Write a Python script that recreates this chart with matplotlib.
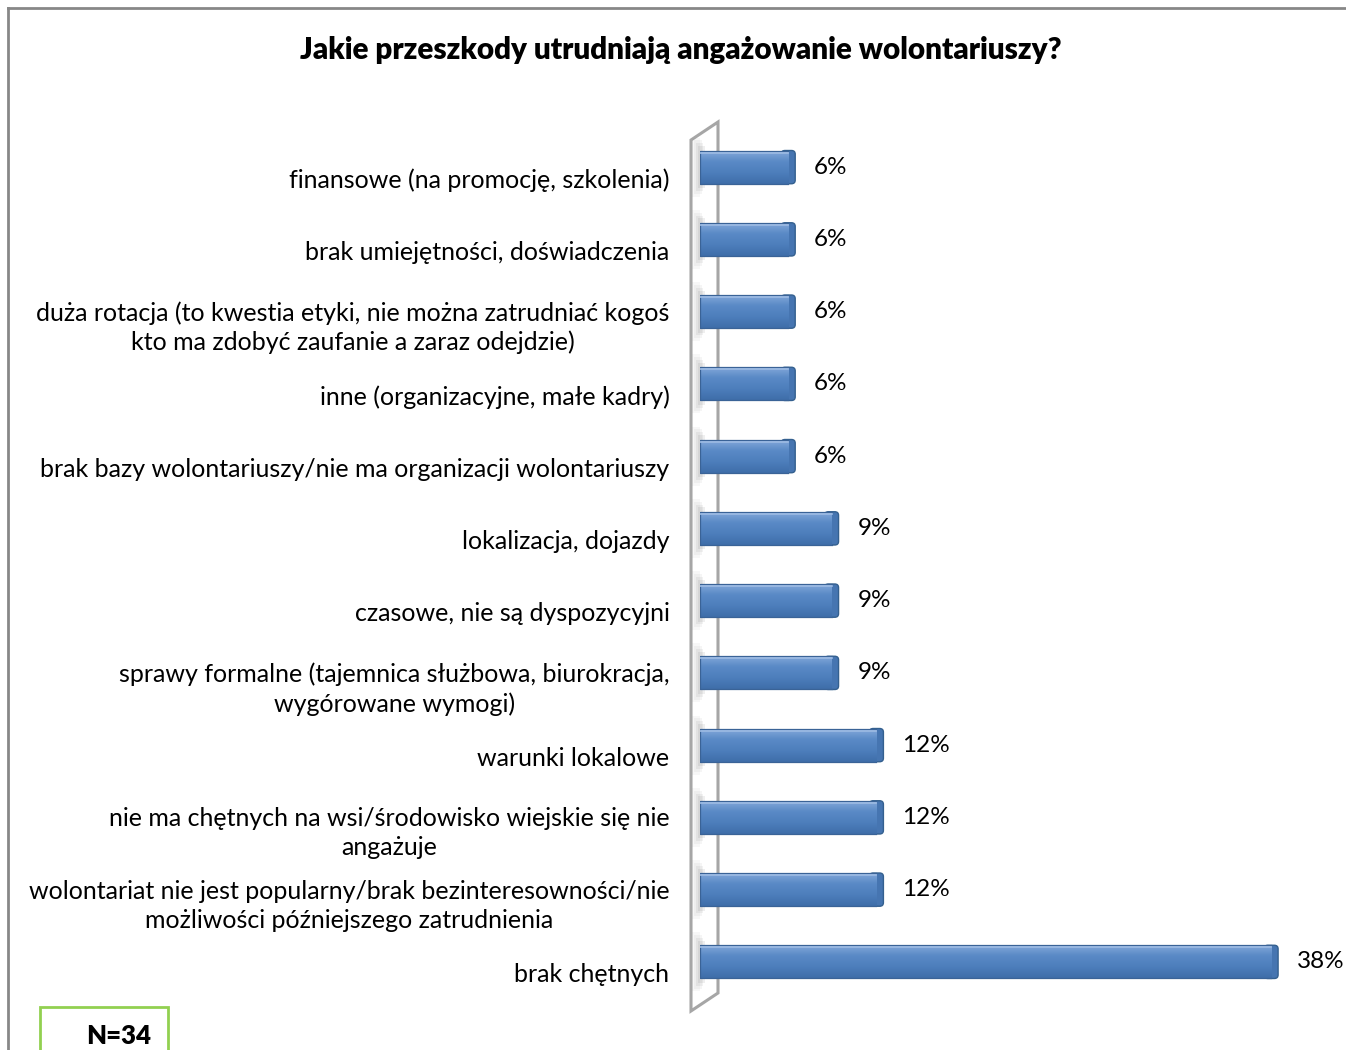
import matplotlib
matplotlib.use("Agg")
import matplotlib.pyplot as plt
import matplotlib.transforms as mtransforms
from matplotlib.patches import Polygon, Rectangle, FancyBboxPatch
from matplotlib.colors import LinearSegmentedColormap
import numpy as np

categories = [
    "finansowe (na promocję, szkolenia)",
    "brak umiejętności, doświadczenia",
    "duża rotacja (to kwestia etyki, nie można zatrudniać kogoś\nkto ma zdobyć zaufanie a zaraz odejdzie)",
    "inne (organizacyjne, małe kadry)",
    "brak bazy wolontariuszy/nie ma organizacji wolontariuszy",
    "lokalizacja, dojazdy",
    "czasowe, nie są dyspozycyjni",
    "sprawy formalne (tajemnica służbowa, biurokracja,\nwygórowane wymogi)",
    "warunki lokalowe",
    "nie ma chętnych na wsi/środowisko wiejskie się nie\nangażuje",
    "wolontariat nie jest popularny/brak bezinteresowności/nie\nmożliwości późniejszego zatrudnienia",
    "brak chętnych",
]
values = [5.9, 5.9, 5.9, 5.9, 5.9, 8.8, 8.8, 8.8, 11.8, 11.8, 11.8, 38.2]
value_labels = ["6%", "6%", "6%", "6%", "6%", "9%", "9%", "9%", "12%", "12%", "12%", "38%"]
title = "Jakie przeszkody utrudniają angażowanie wolontariuszy?"
note = "N=34"

W, H = 1346, 1050
fig = plt.figure(figsize=(W / 100, H / 100), dpi=100)
fig.patch.set_facecolor("white")
FONT = ["Lato", "DejaVu Sans"]

PX_PER_UNIT = 14.95
ax_left = 700
ax_top, ax_bottom = 131, 998
XMAX = 40
ax_right = ax_left + XMAX * PX_PER_UNIT
ax = fig.add_axes([ax_left / W, 1 - ax_bottom / H, (ax_right - ax_left) / W, (ax_bottom - ax_top) / H])
ax.patch.set_visible(False)
n = len(categories)
y = np.arange(n)
for s in ax.spines.values():
    s.set_visible(False)
ax.set_xticks([])
ax.tick_params(axis="y", length=0, pad=22)
ax.set_yticks(y)
ax.set_yticklabels(categories, fontsize=18, family=FONT, color="#000000", linespacing=1.32)
offset = mtransforms.ScaledTranslation(0, -11 / 100, fig.dpi_scale_trans)
for t in ax.get_yticklabels():
    t.set_multialignment("center")
    t.set_transform(t.get_transform() + offset)

def fx(px):
    return px / W
def fy(py):
    return 1 - py / H

# wall (3D axis backdrop)
wall = Polygon([(fx(691), fy(1011)), (fx(718), fy(993)), (fx(718), fy(122)), (fx(691), fy(140))],
               closed=True, transform=fig.transFigure, facecolor="white",
               edgecolor="#A6A6A6", lw=2.2, zorder=-1)
fig.add_artist(wall)

bh = 0.46
cap = 7 / PX_PER_UNIT
grad = np.linspace(0, 1, 64).reshape(-1, 1)
cmap = LinearSegmentedColormap.from_list("b", ["#86AADB", "#5A8AC6", "#4D7EBC", "#3F6EA9"])
bars = ax.barh(y, values, height=bh, color="#4F81BD", edgecolor="none", zorder=3)
for b in bars:
    x0, y0 = b.get_x(), b.get_y()
    w, h = b.get_width(), b.get_height()
    # soft shadow on the wall where the bar enters
    for k, a in enumerate([0.12, 0.10, 0.08, 0.06]):
        ax.add_patch(Rectangle((-0.15 - 0.12 * k, y0 - 0.06 - 0.04 * k), 0.5, h + 0.12 + 0.08 * k,
                               facecolor="#808080", edgecolor="none", alpha=a, zorder=2, clip_on=False))
    # rounded 3D end cap (behind the bar face)
    cp = FancyBboxPatch((x0 + w - cap, y0), 2 * cap, h,
                        boxstyle="round,pad=0,rounding_size=0.25",
                        mutation_aspect=0.2, facecolor="#4675B1", edgecolor="#34608F",
                        lw=1.0, zorder=3.2, clip_on=False)
    ax.add_patch(cp)
    im = ax.imshow(grad, extent=(x0, x0 + w, y0 + h, y0), aspect="auto", cmap=cmap,
                   zorder=3.5, origin="upper")
    im.set_clip_path(b)
    ax.plot([x0 + w, x0, x0, x0 + w], [y0, y0, y0 + h, y0 + h], color="#3A6397", lw=0.9, zorder=3.7)
    ax.plot([x0, x0 + w], [y0 + 0.03, y0 + 0.03], color="#9DBBE3", lw=1.2, zorder=3.8)

ax.set_xlim(0, XMAX)
ax.set_ylim(n - 0.5, -0.5)

for yi, v, lab in zip(y, values, value_labels):
    ax.annotate(lab, (v, yi), xytext=(7 + 19, 0), textcoords="offset pixels",
                ha="left", va="center", fontsize=17.5, family=FONT, color="#000000",
                annotation_clip=False)

fig.text(681 / W, 1 - 50 / H, title, ha="center", va="center", fontsize=21.3,
         fontweight="heavy", family=FONT, color="#000000")

# outer frame (top and left)
fig.add_artist(plt.Line2D([fx(8), 1.0], [fy(8), fy(8)], color="#878787", lw=2, transform=fig.transFigure))
fig.add_artist(plt.Line2D([fx(8), fx(8)], [fy(8), 0.0], color="#878787", lw=2, transform=fig.transFigure))

# N box
fig.add_artist(Rectangle((fx(40), fy(1050) - 0.01), (168 - 40) / W, (1050 - 1007) / H + 0.01,
                         transform=fig.transFigure, facecolor="white", edgecolor="#92D050", lw=2))
fig.text(119 / W, 1 - 1036 / H, note, ha="center", va="center", fontsize=18.5, fontweight="heavy",
         family=FONT, color="#000000")

fig.savefig("out.png", dpi=100, facecolor="white")
